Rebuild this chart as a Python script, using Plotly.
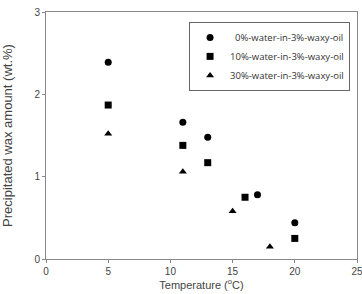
import plotly.graph_objects as go

temp_0 = [5, 11, 13, 17, 20]
wax_0 = [2.39, 1.66, 1.48, 0.78, 0.44]
temp_10 = [5, 11, 13, 16, 20]
wax_10 = [1.87, 1.38, 1.17, 0.75, 0.25]
temp_30 = [5, 11, 15, 18]
wax_30 = [1.52, 1.06, 0.58, 0.15]

names = ["  0%-water-in-3%-waxy-oil", "10%-water-in-3%-waxy-oil", "30%-water-in-3%-waxy-oil"]

fig = go.Figure()
fig.add_trace(go.Scatter(x=temp_0, y=wax_0, mode="markers", name=names[0],
                         marker=dict(symbol="circle", size=7, color="black")))
fig.add_trace(go.Scatter(x=temp_10, y=wax_10, mode="markers", name=names[1],
                         marker=dict(symbol="square", size=7, color="black")))
fig.add_trace(go.Scatter(x=temp_30, y=wax_30, mode="markers", name=names[2],
                         marker=dict(symbol="triangle-up", size=7, color="black")))

axis_common = dict(showline=True, linecolor="#888888", linewidth=1, mirror=True,
                   showgrid=False, zeroline=False, ticks="outside", ticklen=3,
                   tickcolor="#888888", ticklabeloverflow="allow", automargin=False,
                   tickfont=dict(family="Liberation Sans", size=10, color="#444444"))

fig.update_layout(
    width=362, height=294,
    margin=dict(l=46, r=5, t=12, b=35),
    paper_bgcolor="white", plot_bgcolor="white",
    xaxis=dict(range=[0, 25], dtick=5,
               title=dict(text="Temperature (<sup>o</sup>C)", standoff=4,
                          font=dict(family="Liberation Sans", size=11, color="#444444")),
               **axis_common),
    yaxis=dict(range=[0, 3], dtick=1,
               title=dict(text="Precipitated wax amount (wt.%)", standoff=18,
                          font=dict(family="Liberation Sans", size=13, color="#444444")),
               **axis_common),
    legend=dict(x=0.46, y=0.96, xanchor="left", yanchor="top",
                bordercolor="#666666", borderwidth=1, bgcolor="white",
                font=dict(family="Open Sans", size=9.5, color="#333333"),
                tracegroupgap=0, itemwidth=30),
    showlegend=True,
)

fig.write_html("out.html")
